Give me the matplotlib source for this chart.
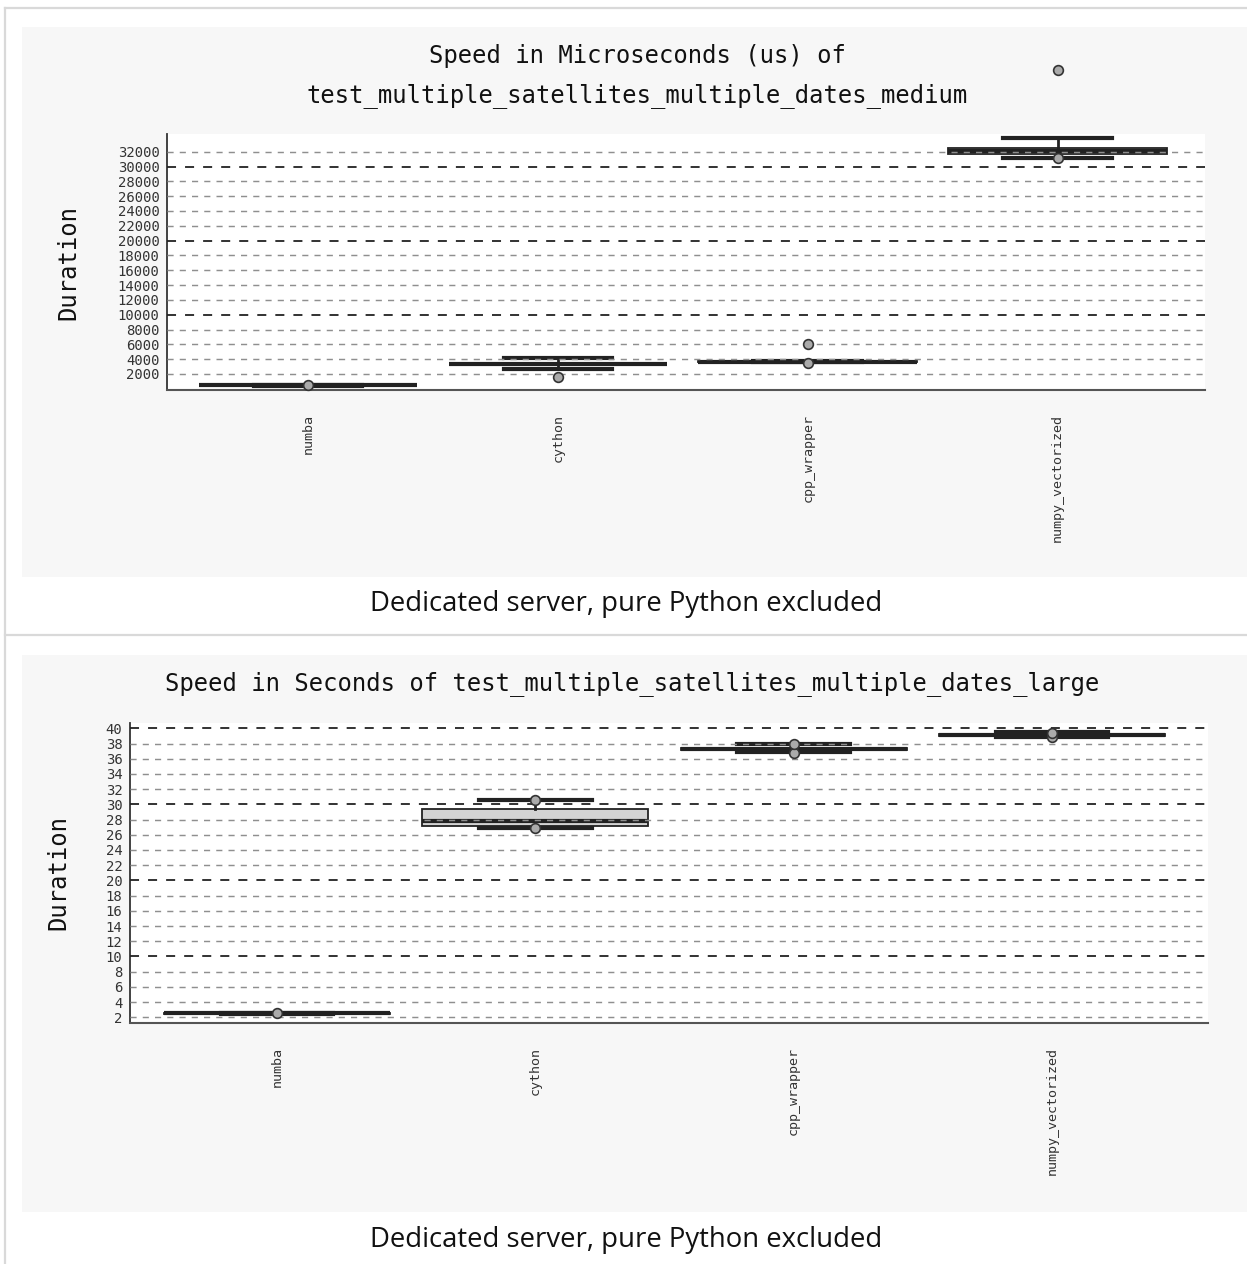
"""
two benchmark boxplots (medium and large dataset) stacked on one page,
each with its caption underneath
"""
import matplotlib
matplotlib.use("Agg")
import matplotlib.pyplot as plt
from matplotlib.patches import Rectangle
from matplotlib.lines import Line2D

W, H = 1247, 1264

methods = ["numba", "cython", "cpp_wrapper", "numpy_vectorized"]

# medium run, microseconds
med_median = [500, 3350, 3680, 32100]
med_q1 = [470, 3300, 3640, 31750]
med_q3 = [540, 3400, 3720, 32450]
med_whislo = [440, 2640, 3560, 31150]
med_whishi = [580, 4120, 3820, 33900]
med_fliers = [[510], [1640], [3540, 6010], [31150, 43050]]
med_ticks = list(range(2000, 34000, 2000))

# large run, seconds
lrg_median = [2.53, 27.85, 37.28, 39.12]
lrg_q1 = [2.48, 27.2, 37.2, 39.05]
lrg_q3 = [2.58, 29.35, 37.36, 39.2]
lrg_whislo = [2.44, 26.93, 36.95, 38.82]
lrg_whishi = [2.62, 30.57, 37.9, 39.5]
lrg_fliers = [[2.56], [26.93, 30.57], [36.8, 37.9], [38.85, 39.4]]
lrg_ticks = list(range(2, 42, 2))

caption = "Dedicated server, pure Python excluded"
mono = "DejaVu Sans Mono"
dark = "#222222"


def fx(x):
    return x / W


def fy(y):
    return 1 - y / H


def draw_box(ax, medians, q1, q3, lo, hi, fliers, ticks, ylim, xlim, major):
    stats = []
    for i in range(len(methods)):
        stats.append(dict(med=medians[i], q1=q1[i], q3=q3[i],
                          whislo=lo[i], whishi=hi[i], fliers=fliers[i],
                          label=methods[i]))
    parts = ax.bxp(stats, positions=range(len(methods)), widths=0.875,
                   capwidths=0.435, patch_artist=True,
                   boxprops=dict(facecolor="#d3d3d3", edgecolor=dark, linewidth=1.3),
                   medianprops=dict(color=dark, linewidth=3.0),
                   whiskerprops=dict(color=dark, linewidth=2.0),
                   capprops=dict(color=dark, linewidth=3.0),
                   flierprops=dict(marker="o", markersize=7, markerfacecolor="#aaaaaa",
                                   markeredgecolor="#333333", markeredgewidth=1.2))
    for f in parts["fliers"]:
        f.set_clip_on(False)
        f.set_zorder(5)

    ax.set_ylim(*ylim)
    ax.set_xlim(*xlim)
    ax.set_facecolor("white")
    # dashed grid, darker on every major step
    for v in ticks:
        if v % major == 0:
            ax.axhline(v, color=dark, linewidth=1.3, linestyle=(0, (5.0, 5.0)), zorder=4)
        else:
            ax.axhline(v, color="#8f8f8f", linewidth=1.05, linestyle=(0, (4.2, 4.2)), zorder=4)

    ax.set_yticks(ticks)
    ax.set_yticklabels([str(t) for t in ticks], fontfamily=mono, fontsize=10, color="#333333")
    ax.set_xticks(range(len(methods)))
    ax.set_xticklabels(methods, rotation=90, fontfamily=mono, fontsize=9.6, color="#333333")
    ax.tick_params(axis="y", length=0, pad=5.4)
    ax.tick_params(axis="x", length=0, pad=17.5)
    for s in ["top", "right"]:
        ax.spines[s].set_visible(False)
    ax.spines["left"].set_color("#333333")
    ax.spines["left"].set_linewidth(1.3)
    ax.spines["bottom"].set_color("#555555")
    ax.spines["bottom"].set_linewidth(1.5)


fig = plt.figure(figsize=(W / 100, H / 100), dpi=100)
fig.patch.set_facecolor("white")

# page frame and the two chart backgrounds
for (y0, y1) in [(27, 577), (655, 1212)]:
    fig.patches.append(Rectangle((fx(22), fy(y1)), fx(W) - fx(22), fy(y0) - fy(y1),
                                 transform=fig.transFigure, facecolor="#f7f7f7",
                                 edgecolor="none", zorder=-10))
border = "#d9d9d9"
fig.lines.append(Line2D([fx(4.5), fx(4.5)], [fy(7.5), 0], transform=fig.transFigure,
                        color=border, linewidth=1.6, zorder=-10))
fig.lines.append(Line2D([fx(4.5), 1], [fy(7.5), fy(7.5)], transform=fig.transFigure,
                        color=border, linewidth=1.6, zorder=-10))
fig.lines.append(Line2D([fx(4.5), 1], [fy(635), fy(635)], transform=fig.transFigure,
                        color=border, linewidth=1.6, zorder=-10))

# medium benchmark
ax1 = fig.add_axes([fx(167), fy(390), fx(1205) - fx(167), fy(134) - fy(390)])
draw_box(ax1, med_median, med_q1, med_q3, med_whislo, med_whishi, med_fliers,
         med_ticks, (-160, 34390), (-0.565, 3.59), 10000)
fig.text(fx(637), fy(56), "Speed in Microseconds (us) of", fontfamily=mono,
         fontsize=17.2, ha="center", va="center", color="#111111")
fig.text(fx(637), fy(96), "test_multiple_satellites_multiple_dates_medium", fontfamily=mono,
         fontsize=17.2, ha="center", va="center", color="#111111")
fig.text(fx(68), fy(262), "Duration", fontfamily=mono, fontsize=17.2, rotation=90,
         ha="center", va="center", color="#111111")
fig.text(fx(626), fy(604), caption, fontfamily="Open Sans", fontsize=19.8,
         ha="center", va="center", color="#111111")

# large benchmark
ax2 = fig.add_axes([fx(130), fy(1022.7), fx(1208) - fx(130), fy(723.3) - fy(1022.7)])
draw_box(ax2, lrg_median, lrg_q1, lrg_q3, lrg_whislo, lrg_whishi, lrg_fliers,
         lrg_ticks, (1.29, 40.66), (-0.57, 3.605), 10)
fig.text(fx(632), fy(684), "Speed in Seconds of test_multiple_satellites_multiple_dates_large",
         fontfamily=mono, fontsize=17.2, ha="center", va="center", color="#111111")
fig.text(fx(58), fy(872), "Duration", fontfamily=mono, fontsize=17.2, rotation=90,
         ha="center", va="center", color="#111111")
fig.text(fx(626), fy(1240), caption, fontfamily="Open Sans", fontsize=19.8,
         ha="center", va="center", color="#111111")

fig.savefig("out.png", dpi=100)
